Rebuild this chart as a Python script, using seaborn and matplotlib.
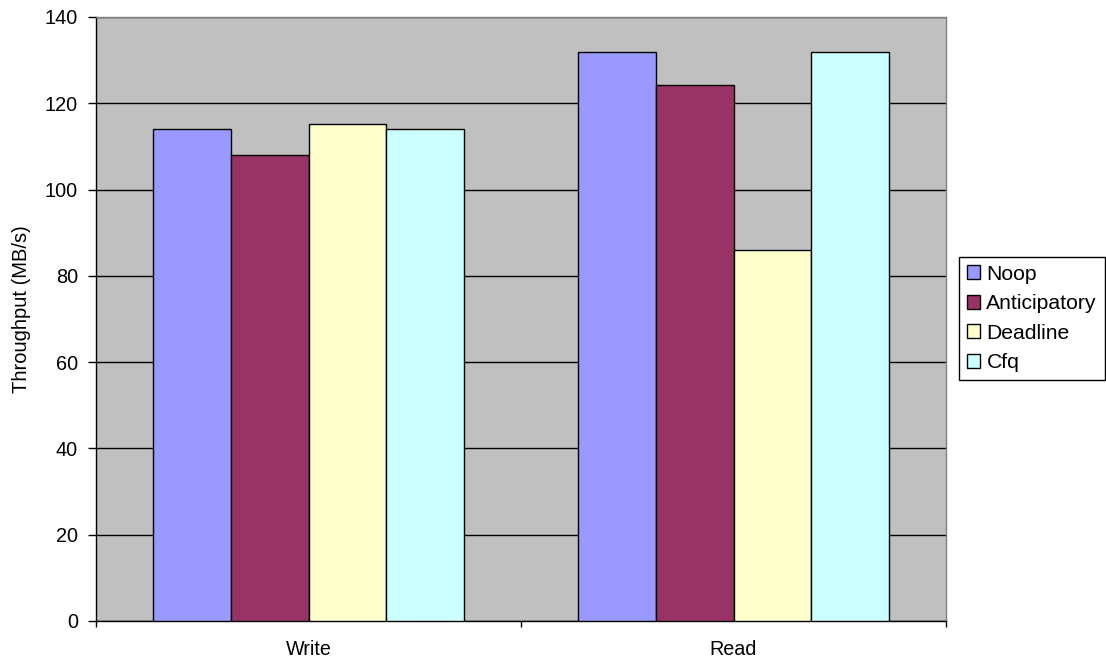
import matplotlib
matplotlib.use("Agg")
import matplotlib.pyplot as plt
import seaborn as sns
import pandas as pd

categories = ["Write", "Read"]
schedulers = ["Noop", "Anticipatory", "Deadline", "Cfq"]
write_vals = [114, 108, 115.2, 114]
read_vals = [132, 124.3, 86, 132]
colors = ["#9999FF", "#993366", "#FFFFCC", "#CCFFFF"]
yticks = [0, 20, 40, 60, 80, 100, 120, 140]

rows = []
for s, w, r in zip(schedulers, write_vals, read_vals):
    rows.append({"Op": "Write", "Scheduler": s, "Throughput": w})
    rows.append({"Op": "Read", "Scheduler": s, "Throughput": r})
df = pd.DataFrame(rows)

sns.set_style("white")
plt.rcParams["font.family"] = ["Liberation Sans", "DejaVu Sans"]
plt.rcParams["text.color"] = "black"
plt.rcParams["axes.labelcolor"] = "black"
plt.rcParams["xtick.color"] = "black"
plt.rcParams["ytick.color"] = "black"

fig = plt.figure(figsize=(11.06, 6.64), dpi=100)
ax = fig.add_axes([96/1106, 43/664, 850/1106, 604/664])
ax.set_facecolor("#C0C0C0")

sns.barplot(data=df, x="Op", y="Throughput", hue="Scheduler",
            order=categories, hue_order=schedulers, palette=colors,
            width=0.73, edgecolor="black", linewidth=1, saturation=1,
            ax=ax, zorder=3)

ax.set_ylim(0, 140)
ax.set_xlim(-0.5, 1.5)
ax.set_yticks(yticks)
ax.set_yticklabels([str(v) for v in yticks], fontsize=14.3)
ax.yaxis.grid(True, color="black", linewidth=1, zorder=0)
ax.set_axisbelow(True)

ax.set_xticks([0, 1])
ax.set_xticklabels(categories, fontsize=14.2)
ax.set_xticks([-0.5, 0.5, 1.5], minor=True)
ax.tick_params(axis="x", which="major", bottom=True, length=0, pad=14,
               labelcolor="black")
ax.tick_params(axis="x", which="minor", bottom=True, length=4.5, width=1,
               color="black", direction="out")
ax.tick_params(axis="y", left=True, length=5.5, width=1, color="black",
               direction="out", pad=7.5, labelcolor="black")

ax.set_xlabel("")
ax.set_ylabel("Throughput (MB/s)", fontsize=14.5, color="black")
ax.yaxis.set_label_coords(-0.0765, 0.5166)

for side in ["left", "bottom"]:
    ax.spines[side].set_color("black")
    ax.spines[side].set_linewidth(1)
for side in ["top", "right"]:
    ax.spines[side].set_visible(True)
    ax.spines[side].set_color("#808080")
    ax.spines[side].set_linewidth(1)

handles, labels = ax.get_legend_handles_labels()
leg = ax.legend(handles, labels, loc="upper right",
                bbox_to_anchor=(1104.5/1106, 1 - 257/664),
                bbox_transform=fig.transFigure, frameon=True, fancybox=False,
                edgecolor="black", facecolor="white", framealpha=1,
                fontsize=15.2, handlelength=0.62, handleheight=0.62,
                handletextpad=0.3, borderpad=0.36, labelspacing=0.5,
                borderaxespad=0, labelcolor="black")
leg.get_frame().set_linewidth(1)

fig.savefig("out.png", dpi=100)
